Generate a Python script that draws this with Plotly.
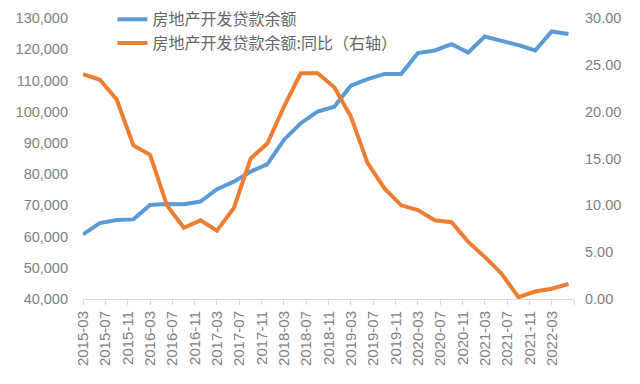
import plotly.graph_objects as go

dates = ["2015-03", "2015-06", "2015-09", "2015-12",
         "2016-03", "2016-06", "2016-09", "2016-12",
         "2017-03", "2017-06", "2017-09", "2017-12",
         "2018-03", "2018-06", "2018-09", "2018-12",
         "2019-03", "2019-06", "2019-09", "2019-12",
         "2020-03", "2020-06", "2020-09", "2020-12",
         "2021-03", "2021-06", "2021-09", "2021-12",
         "2022-03", "2022-06"]

loan_balance = [60700, 64300, 65300, 65500, 70100, 70450, 70350, 71200,
                75150, 77600, 80800, 83200, 90950, 96300, 100000, 101600,
                108300, 110400, 112100, 112100, 118750, 119600, 121600, 118950,
                124050, 122800, 121300, 119600, 125700, 124850]

loan_yoy = [24.0, 23.4, 21.3, 16.4, 15.4, 10.0, 7.6, 8.4, 7.3, 9.7,
            15.0, 16.6, 20.5, 24.1, 24.1, 22.6, 19.5, 14.5, 11.8, 10.0,
            9.5, 8.4, 8.2, 6.1, 4.5, 2.7, 0.2, 0.8, 1.1, 1.6]

x_tick_vals = ["2015-03", "2015-07", "2015-11", "2016-03", "2016-07", "2016-11",
               "2017-03", "2017-07", "2017-11", "2018-03", "2018-07", "2018-11",
               "2019-03", "2019-07", "2019-11", "2020-03", "2020-07", "2020-11",
               "2021-03", "2021-07", "2021-11", "2022-03", "2022-07"]
x_tick_text = x_tick_vals[:-1] + [""]

name_balance = "房地产开发贷款余额"
name_yoy = "房地产开发贷款余额:同比（右轴）"

gray = "#808080"
num_font = "Liberation Sans, Arial, sans-serif"
cjk_font = "Noto Sans CJK SC, sans-serif"

fig = go.Figure()
fig.add_trace(go.Scatter(x=dates, y=loan_balance, name=name_balance, mode="lines",
                         line=dict(color="#5B9BD5", width=4), yaxis="y"))
fig.add_trace(go.Scatter(x=dates, y=loan_yoy, name=name_yoy, mode="lines",
                         line=dict(color="#ED7D31", width=4), yaxis="y2"))

fig.update_layout(
    width=640, height=384,
    margin=dict(l=83, r=66, t=18, b=85, autoexpand=False),
    paper_bgcolor="white", plot_bgcolor="white",
    showlegend=True,
    legend=dict(x=0.06, y=1.056, xanchor="left", yanchor="top",
                font=dict(family=cjk_font, size=16, color="#666666"),
                bgcolor="rgba(0,0,0,0)", tracegroupgap=0),
    xaxis=dict(type="date", range=["2015-03-01", "2022-07-01"],
               tickmode="array", tickvals=x_tick_vals, ticktext=x_tick_text,
               tickangle=-90, ticks="outside", ticklen=5, tickcolor="#d9d9d9",
               showline=True, linecolor="#d9d9d9", linewidth=1,
               showgrid=False, zeroline=False,
               tickfont=dict(family=num_font, size=15, color=gray)),
    yaxis=dict(range=[40000, 130000], dtick=10000, tickformat=",",
               showgrid=False, zeroline=False, showline=False, ticks="",
               ticklabelstandoff=14,
               tickfont=dict(family=num_font, size=14.5, color=gray)),
    yaxis2=dict(range=[0, 30], dtick=5, tickformat=".2f", overlaying="y", side="right",
                showgrid=False, zeroline=False, showline=False, ticks="",
                ticklabelstandoff=10,
                tickfont=dict(family=num_font, size=14.5, color=gray)),
)

fig.write_html("out.html", config={"displayModeBar": False},
               post_script="document.body.style.margin='0';")
